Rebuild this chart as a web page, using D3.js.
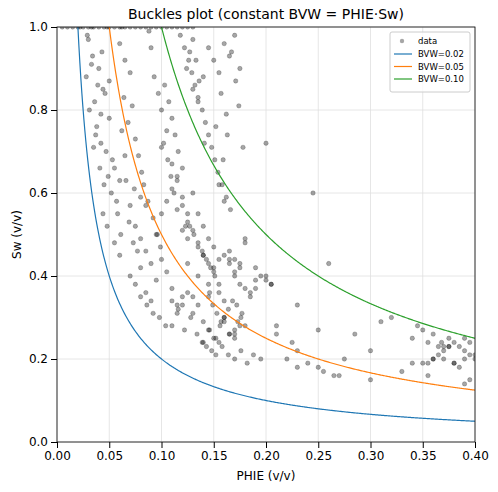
<!DOCTYPE html>
<html><head><meta charset="utf-8">
<script src="https://cdn.jsdelivr.net/npm/d3@7"></script>
<style>body{margin:0;background:#fff}svg{font-family:"DejaVu Sans",sans-serif}</style>
</head><body><svg id="c" width="498" height="492"></svg>
<script>
const title = "Buckles plot (constant BVW = PHIE·Sw)";
const xTicks = [0,0.05,0.1,0.15,0.2,0.25,0.3,0.35,0.4];
const yTicks = [0,0.2,0.4,0.6,0.8,1.0];
const bvwValues = [0.02,0.05,0.10];
const bvwColors = ["#1f77b4","#ff7f0e","#2ca02c"];
const phie = [
0.005,0.01,0.015,0.02,0.025,0.03,0.035,0.04,0.045,0.05,0.055,0.06,0.065,0.07,0.075,0.08,0.085,0.09,0.095,0.1,0.105,0.11,0.115,0.12,0.125,0.13,0.022,0.033,0.048,0.062,
0.03,0.034,0.028,0.04,0.044,0.036,0.05,0.046,0.038,0.042,0.031,0.047,0.053,0.041,0.037,0.045,0.039,0.043,0.029,0.049,0.035,0.052,0.057,0.044,0.048,0.055,0.06,0.033,0.042,0.05,
0.06,0.065,0.07,0.064,0.072,0.068,0.075,0.078,0.081,0.062,0.066,0.074,0.08,0.085,0.088,0.09,0.093,0.097,0.1,0.103,0.107,0.11,0.113,0.116,0.12,0.124,0.127,0.13,0.133,0.136,
0.058,0.061,0.069,0.073,0.077,0.083,0.087,0.092,0.096,0.099,0.102,0.106,0.109,0.112,0.115,0.118,0.122,0.126,0.129,0.132,0.135,0.139,0.142,0.145,0.148,0.151,0.154,0.158,0.162,0.166,
0.07,0.075,0.08,0.085,0.09,0.095,0.1,0.105,0.11,0.115,0.12,0.125,0.13,0.135,0.14,0.145,0.15,0.155,0.16,0.165,0.17,0.175,0.18,0.185,0.19,0.195,0.2,0.205,0.16,0.17,
0.055,0.06,0.065,0.07,0.075,0.08,0.085,0.09,0.095,0.1,0.105,0.11,0.115,0.12,0.125,0.13,0.135,0.14,0.145,0.15,0.155,0.16,0.165,0.17,0.175,0.18,0.185,0.19,0.12,0.125,
0.1,0.105,0.11,0.115,0.12,0.125,0.13,0.135,0.14,0.145,0.15,0.155,0.16,0.165,0.17,0.175,0.18,0.123,0.127,0.131,0.135,0.139,0.143,0.147,0.151,0.155,0.145,0.149,0.153,0.157,
0.11,0.115,0.12,0.125,0.13,0.135,0.14,0.145,0.15,0.155,0.16,0.165,0.17,0.175,0.172,0.168,0.164,0.16,0.156,0.177,0.18,0.173,0.176,0.148,0.152,0.165,0.17,0.139,0.143,0.146,
0.13,0.135,0.14,0.145,0.15,0.155,0.16,0.165,0.17,0.175,0.157,0.162,0.167,0.171,0.174,0.152,0.141,0.159,0.163,0.178,
0.08,0.086,0.092,0.098,0.104,0.11,0.116,0.122,0.128,0.134,0.14,0.146,0.152,0.158,0.164,0.17,0.176,0.182,0.188,0.195,0.21,0.225,0.24,0.255,0.27,0.23,0.25,0.19,0.2,0.205,
0.21,0.22,0.23,0.245,0.26,0.265,0.275,0.285,0.3,0.31,0.32,0.33,0.34,0.345,0.35,0.355,0.36,0.365,0.37,0.375,0.38,0.385,0.39,0.395,0.4,0.36,0.37,0.38,0.39,0.355,
0.35,0.36,0.37,0.38,0.39,0.395,0.365,0.375,0.385,0.4,0.34,0.355,0.395,0.39,0.375,0.368,0.3,0.25,0.23,0.2
];
const sw = [
1,1,1,1,1,1,1,1,1,1,1,1,1,1,1,1,1,1,1,1,1,1,1,1,1,1,1,1,1,1,
0.97,0.93,0.88,0.9,0.85,0.82,0.78,0.84,0.76,0.72,0.8,0.7,0.68,0.66,0.74,0.62,0.86,0.94,0.98,0.64,0.71,0.6,0.58,0.55,0.52,0.48,0.45,0.91,0.79,0.87,
0.96,0.92,0.89,0.83,0.81,0.77,0.73,0.69,0.65,0.75,0.63,0.61,0.59,0.57,0.99,0.95,0.88,0.84,0.8,0.86,0.82,0.78,0.74,0.7,0.66,0.9,0.94,0.97,0.92,0.87,
0.55,0.5,0.53,0.48,0.46,0.62,0.58,0.54,0.5,0.47,0.72,0.68,0.64,0.6,0.56,0.98,0.95,0.92,0.89,0.86,0.83,0.8,0.77,0.74,0.71,0.68,0.65,0.62,0.59,0.56,
0.4,0.38,0.42,0.36,0.34,0.39,0.44,0.41,0.37,0.33,0.35,0.43,0.31,0.4,0.45,0.38,0.42,0.36,0.34,0.44,0.41,0.38,0.48,0.36,0.37,0.4,0.39,0.38,0.3,0.26,
0.66,0.63,0.69,0.57,0.52,0.49,0.46,0.43,0.5,0.55,0.58,0.61,0.64,0.57,0.53,0.6,0.55,0.52,0.49,0.47,0.44,0.45,0.43,0.4,0.42,0.37,0.35,0.39,0.51,0.49,
0.71,0.75,0.67,0.63,0.59,0.55,0.51,0.48,0.45,0.43,0.41,0.62,0.58,0.46,0.44,0.43,0.49,0.52,0.52,0.5,0.47,0.46,0.44,0.42,0.4,0.38,0.35,0.33,0.31,0.29,
0.28,0.31,0.33,0.36,0.35,0.33,0.29,0.27,0.25,0.24,0.29,0.26,0.27,0.28,0.33,0.34,0.32,0.3,0.28,0.31,0.28,0.29,0.3,0.22,0.21,0.26,0.25,0.24,0.23,0.36,
0.85,0.82,0.88,0.95,0.92,0.89,0.96,0.93,0.98,0.9,0.84,0.79,0.94,0.87,0.81,0.76,0.72,0.68,0.74,0.71,
0.35,0.33,0.31,0.3,0.28,0.34,0.32,0.27,0.3,0.26,0.24,0.27,0.25,0.23,0.21,0.2,0.22,0.19,0.21,0.2,0.28,0.24,0.19,0.17,0.16,0.18,0.27,0.42,0.4,0.38,
0.26,0.2,0.33,0.6,0.43,0.16,0.2,0.26,0.22,0.29,0.3,0.17,0.25,0.28,0.27,0.19,0.2,0.21,0.22,0.23,0.24,0.23,0.22,0.24,0.21,0.26,0.2,0.19,0.2,0.24,
0.19,0.2,0.23,0.19,0.14,0.21,0.23,0.25,0.18,0.2,0.19,0.16,0.15,0.25,0.23,0.24,0.15,0.18,0.22,0.72
];
const W=498,H=492,m={l:57,r:23,t:27,b:50};
const svg=d3.select("#c");
const x=d3.scaleLinear().domain([0,0.4]).range([m.l,W-m.r]);
const y=d3.scaleLinear().domain([0,1]).range([H-m.b,m.t]);
const g=svg.append("g");
g.selectAll(".gx").data(xTicks).join("line").attr("x1",d=>x(d)).attr("x2",d=>x(d)).attr("y1",m.t).attr("y2",H-m.b).attr("stroke","#e0e0e0").attr("stroke-width",0.8);
g.selectAll(".gy").data(yTicks).join("line").attr("y1",d=>y(d)).attr("y2",d=>y(d)).attr("x1",m.l).attr("x2",W-m.r).attr("stroke","#e0e0e0").attr("stroke-width",0.8);
svg.append("defs").append("clipPath").attr("id","cp").append("rect").attr("x",m.l).attr("y",m.t).attr("width",W-m.l-m.r).attr("height",H-m.t-m.b);
const pts=svg.append("g").attr("clip-path","url(#cp)");
pts.selectAll("circle").data(phie.map((p,i)=>[p,sw[i]])).join("circle").attr("cx",d=>x(d[0])).attr("cy",d=>y(d[1])).attr("r",2.2).attr("fill","#000").attr("fill-opacity",0.35).attr("stroke","#000").attr("stroke-opacity",0.2);
const line=d3.line().x(d=>x(d[0])).y(d=>y(d[1]));
bvwValues.forEach((b,i)=>{
  const xs=d3.range(0,401).map(k=>b+(0.4-b)*k/400);
  pts.append("path").datum(xs.map(p=>[p,Math.min(b/p,1.05)])).attr("d",line).attr("fill","none").attr("stroke",bvwColors[i]).attr("stroke-width",1.2);
});
svg.append("rect").attr("x",m.l).attr("y",m.t).attr("width",W-m.l-m.r).attr("height",H-m.t-m.b).attr("fill","none").attr("stroke","#000").attr("stroke-width",0.8);
const xa=svg.append("g").attr("transform",`translate(0,${H-m.b})`).call(d3.axisBottom(x).tickValues(xTicks).tickFormat(d3.format(".2f")).tickSizeOuter(0));
const ya=svg.append("g").attr("transform",`translate(${m.l},0)`).call(d3.axisLeft(y).tickValues(yTicks).tickFormat(d3.format(".1f")).tickSizeOuter(0));
[xa,ya].forEach(a=>{a.select(".domain").remove();a.selectAll("text").attr("font-size",12).attr("fill","#000").attr("font-family","DejaVu Sans");a.selectAll("line").attr("stroke","#000")});
svg.append("text").attr("x",(m.l+W-m.r)/2).attr("y",19).attr("text-anchor","middle").attr("font-size",14).text(title);
svg.append("text").attr("x",(m.l+W-m.r)/2).attr("y",480).attr("text-anchor","middle").attr("font-size",12).text("PHIE (v/v)");
svg.append("text").attr("transform",`translate(21,${(m.t+H-m.b)/2}) rotate(-90)`).attr("text-anchor","middle").attr("font-size",12).text("Sw (v/v)");
const lg=svg.append("g").attr("transform","translate(390,32)");
lg.append("rect").attr("width",80).attr("height",60).attr("rx",2).attr("fill","#fff").attr("fill-opacity",0.8).attr("stroke","#ccc");
lg.append("circle").attr("cx",12).attr("cy",9).attr("r",2.2).attr("fill","#000").attr("fill-opacity",0.35);
lg.append("text").attr("x",28).attr("y",12).attr("font-size",8.5).text("data");
bvwValues.forEach((b,i)=>{
  lg.append("line").attr("x1",4).attr("x2",22).attr("y1",22+i*12.5).attr("y2",22+i*12.5).attr("stroke",bvwColors[i]).attr("stroke-width",1.2);
  lg.append("text").attr("x",28).attr("y",25+i*12.5).attr("font-size",8.5).text("BVW="+b.toFixed(2));
});
</script></body></html>
